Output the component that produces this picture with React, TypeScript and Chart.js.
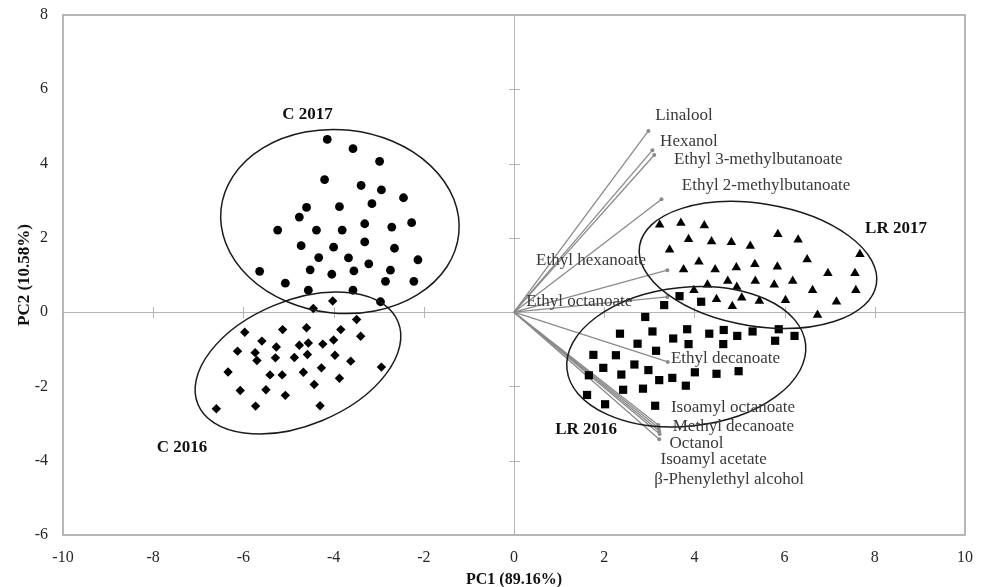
import React, { useEffect, useRef } from "react";
import { Chart, registerables } from "chart.js";

Chart.register(...registerables);

// ---------- data ----------
const xTickValues: number[] = [-10, -8, -6, -4, -2, 0, 2, 4, 6, 8, 10];
const yTickValues: number[] = [-6, -4, -2, 0, 2, 4, 6, 8];

const c2017: [number, number][] = [
  [-4.14, 4.65], [-3.57, 4.4], [-2.98, 4.06], [-4.2, 3.57], [-3.39, 3.41], [-2.94, 3.29],
  [-2.45, 3.08], [-4.6, 2.82], [-3.87, 2.84], [-3.15, 2.92], [-4.76, 2.56], [-5.24, 2.21],
  [-4.38, 2.21], [-3.81, 2.21], [-3.31, 2.38], [-2.71, 2.29], [-2.27, 2.41], [-4.72, 1.79],
  [-4.0, 1.75], [-3.31, 1.89], [-2.65, 1.72], [-4.33, 1.47], [-3.67, 1.46], [-3.22, 1.3],
  [-2.13, 1.41], [-5.64, 1.1], [-4.52, 1.14], [-4.04, 1.02], [-3.55, 1.11], [-2.74, 1.13],
  [-5.07, 0.78], [-4.56, 0.59], [-3.57, 0.59], [-2.85, 0.83], [-2.22, 0.83], [-2.96, 0.28],
];

const c2016: [number, number][] = [
  [-4.45, 0.1], [-4.02, 0.3], [-3.49, -0.2], [-5.97, -0.54], [-5.13, -0.47], [-4.6, -0.42],
  [-3.84, -0.47], [-3.4, -0.65], [-5.59, -0.78], [-5.27, -0.94], [-4.76, -0.89], [-4.56, -0.83],
  [-4.24, -0.86], [-4.0, -0.75], [-6.13, -1.05], [-5.74, -1.09], [-5.7, -1.3], [-5.29, -1.23],
  [-4.87, -1.22], [-4.58, -1.14], [-3.97, -1.16], [-3.62, -1.32], [-6.34, -1.61], [-5.41, -1.69],
  [-5.14, -1.69], [-4.67, -1.62], [-4.27, -1.5], [-2.94, -1.48], [-3.87, -1.78], [-6.07, -2.11],
  [-5.5, -2.09], [-4.43, -1.95], [-5.07, -2.24], [-6.6, -2.6], [-5.73, -2.53], [-4.3, -2.52],
];

const lr2017: [number, number][] = [
  [3.23, 2.35], [3.7, 2.4], [4.22, 2.33], [3.87, 1.96], [4.38, 1.9], [4.82, 1.88],
  [5.24, 1.78], [5.85, 2.1], [6.3, 1.95], [3.45, 1.68], [7.67, 1.56], [6.5, 1.42],
  [4.1, 1.36], [3.76, 1.15], [4.46, 1.15], [4.93, 1.2], [5.34, 1.29], [5.84, 1.22],
  [6.96, 1.05], [7.56, 1.05], [4.29, 0.74], [4.74, 0.84], [4.94, 0.68], [5.35, 0.84],
  [5.77, 0.74], [6.18, 0.84], [6.62, 0.59], [7.58, 0.59], [3.99, 0.59], [4.49, 0.35],
  [5.05, 0.39], [5.44, 0.3], [6.02, 0.32], [7.15, 0.28], [4.84, 0.16], [6.73, -0.08],
];

const lr2016: [number, number][] = [
  [3.67, 0.43], [3.33, 0.19], [4.15, 0.28], [2.91, -0.13], [2.35, -0.58], [3.07, -0.52],
  [3.84, -0.46], [4.33, -0.58], [4.65, -0.48], [4.95, -0.64], [5.29, -0.52], [5.87, -0.46],
  [6.22, -0.64], [5.79, -0.77], [2.74, -0.85], [3.53, -0.71], [3.87, -0.86], [4.64, -0.86],
  [3.15, -1.04], [1.76, -1.15], [2.26, -1.16], [1.98, -1.5], [2.67, -1.41], [2.98, -1.56],
  [1.66, -1.7], [2.38, -1.68], [3.22, -1.83], [3.51, -1.77], [4.01, -1.62], [4.49, -1.66],
  [4.98, -1.59], [3.81, -1.98], [2.42, -2.09], [2.86, -2.06], [1.62, -2.23], [2.02, -2.48],
  [3.13, -2.52],
];

// loading vectors
const vectorNames: string[] = [
  "Linalool", "Hexanol", "Ethyl 3-methylbutanoate", "Ethyl 2-methylbutanoate",
  "Ethyl hexanoate", "Ethyl octanoate", "Ethyl decanoate", "Isoamyl octanoate",
  "Methyl decanoate", "Octanol", "Isoamyl acetate", "β-Phenylethyl alcohol",
];
const vectorEnds: [number, number][] = [
  [2.98, 4.88], [3.07, 4.36], [3.11, 4.23], [3.27, 3.04],
  [3.4, 1.13], [3.4, 0.41], [3.41, -1.34], [3.2, -3.04],
  [3.21, -3.12], [3.22, -3.2], [3.23, -3.28], [3.22, -3.42],
];
// label anchor (left, middle) in data units
const vectorLabelAt: [number, number][] = [
  [3.13, 5.29], [3.24, 4.59], [3.55, 4.1], [3.72, 3.4],
  [0.49, 1.38], [0.27, 0.28], [3.48, -1.24], [3.48, -2.57],
  [3.52, -3.09], [3.45, -3.53], [3.25, -3.98], [3.11, -4.5],
];

// group labels (centre) in data units
const groupNames: string[] = ["C 2017", "C 2016", "LR 2017", "LR 2016"];
const groupLabelAt: [number, number][] = [
  [-4.58, 5.31], [-7.36, -3.66], [8.47, 2.24], [1.6, -3.17],
];
// confidence ellipses: centre x, centre y, semi-axis (x units), semi-axis (y units), rotation deg
const ellipses: [number, number, number, number, number][] = [
  [-3.86, 2.44, 2.65, 2.47, 6],
  [-4.79, -1.37, 2.4, 1.68, -22.4],
  [5.41, 1.27, 2.66, 1.65, 9.2],
  [3.82, -1.2, 2.66, 1.87, -6],
];

const SERIF = "'Liberation Serif', 'Times New Roman', serif";

const toPts = (arr: [number, number][]) => arr.map(([x, y]) => ({ x, y }));

const decorPlugin = {
  id: "decor",
  beforeDatasetsDraw(chart: any) {
    const { ctx, chartArea: a, scales } = chart;
    const xs = scales.x;
    const ys = scales.y;
    const x0 = Math.round(xs.getPixelForValue(0)) + 0.5;
    const y0 = Math.round(ys.getPixelForValue(0)) + 0.5;
    ctx.save();
    ctx.strokeStyle = "#b4b4b4";
    ctx.lineWidth = 1;
    ctx.beginPath();
    ctx.moveTo(a.left, y0);
    ctx.lineTo(a.right, y0);
    ctx.moveTo(x0, a.top);
    ctx.lineTo(x0, a.bottom);
    for (const v of xTickValues) {
      if (v === 0 || v === xTickValues[0] || v === xTickValues[xTickValues.length - 1]) continue;
      const px = Math.round(xs.getPixelForValue(v)) + 0.5;
      ctx.moveTo(px, y0 - 5.5);
      ctx.lineTo(px, y0 + 5.5);
    }
    for (const v of yTickValues) {
      if (v === 0 || v === yTickValues[0] || v === yTickValues[yTickValues.length - 1]) continue;
      const py = Math.round(ys.getPixelForValue(v)) + 0.5;
      ctx.moveTo(x0 - 5.5, py);
      ctx.lineTo(x0 + 5.5, py);
    }
    ctx.stroke();
    ctx.strokeStyle = "#a6a6a6";
    ctx.lineWidth = 1.6;
    ctx.strokeRect(a.left, a.top, a.right - a.left, a.bottom - a.top);
    ctx.restore();
  },
  afterDatasetsDraw(chart: any) {
    const { ctx, scales } = chart;
    const xs = scales.x;
    const ys = scales.y;
    const pxPerX = Math.abs(xs.getPixelForValue(1) - xs.getPixelForValue(0));
    const pxPerY = Math.abs(ys.getPixelForValue(1) - ys.getPixelForValue(0));
    ctx.save();
    ctx.strokeStyle = "#1a1a1a";
    ctx.lineWidth = 1.5;
    for (const [cx, cy, ax, ay, rot] of ellipses) {
      ctx.beginPath();
      ctx.ellipse(
        xs.getPixelForValue(cx),
        ys.getPixelForValue(cy),
        ax * pxPerX,
        ay * pxPerY,
        (rot * Math.PI) / 180,
        0,
        Math.PI * 2
      );
      ctx.stroke();
    }
    ctx.font = `17px ${SERIF}`;
    ctx.fillStyle = "#3a3a3a";
    ctx.textAlign = "left";
    ctx.textBaseline = "middle";
    vectorNames.forEach((name, i) => {
      const [lx, ly] = vectorLabelAt[i];
      ctx.fillText(name, xs.getPixelForValue(lx), ys.getPixelForValue(ly));
    });
    ctx.font = `bold 17px ${SERIF}`;
    ctx.fillStyle = "#111111";
    ctx.textAlign = "center";
    groupNames.forEach((name, i) => {
      const [gx, gy] = groupLabelAt[i];
      ctx.fillText(name, xs.getPixelForValue(gx), ys.getPixelForValue(gy));
    });
    ctx.restore();
  },
};

export default function App() {
  const canvasRef = useRef<HTMLCanvasElement | null>(null);

  useEffect(() => {
    document.body.style.margin = "0";
    const canvas = canvasRef.current;
    if (!canvas) return;

    const markerSets = [
      { data: toPts(c2017), pointStyle: "circle", pointRadius: 4.4 },
      { data: toPts(c2016), pointStyle: "rectRot", pointRadius: 4.7 },
      { data: toPts(lr2017), pointStyle: "triangle", pointRadius: 5.5 },
      { data: toPts(lr2016), pointStyle: "rect", pointRadius: 5.8 },
    ].map((d) => ({
      ...d,
      showLine: false,
      backgroundColor: "#000000",
      borderColor: "#000000",
      borderWidth: 0,
    }));

    const vectorSets = vectorEnds.map(([vx, vy]) => ({
      data: [
        { x: 0, y: 0 },
        { x: vx, y: vy },
      ],
      showLine: true,
      borderColor: "#8a8a8a",
      borderWidth: 1.3,
      pointRadius: [0, 2],
      pointBackgroundColor: "#8a8a8a",
      pointBorderWidth: 0,
      backgroundColor: "#8a8a8a",
    }));

    const chart = new Chart(canvas, {
      type: "scatter",
      data: { datasets: [...markerSets, ...vectorSets] as any },
      options: {
        animation: false,
        responsive: false,
        devicePixelRatio: 1,
        layout: { padding: { top: 15, right: 22, left: 0, bottom: 0 } },
        plugins: { legend: { display: false }, tooltip: { enabled: false } },
        events: [],
        scales: {
          x: {
            type: "linear",
            min: -10,
            max: 10,
            grid: { display: false, drawTicks: false },
            border: { display: false },
            ticks: {
              stepSize: 2,
              autoSkip: false,
              maxRotation: 0,
              padding: 13.5,
              color: "#262626",
              font: { family: SERIF, size: 16 },
            },
            title: {
              display: true,
              text: "PC1 (89.16%)",
              color: "#111111",
              font: { family: SERIF, size: 16, weight: "bold", lineHeight: 0.875 },
              padding: { top: 0, bottom: 0 },
            },
            afterFit: (s: any) => {
              s.height = 52;
              s.paddingLeft = 0;
              s.paddingRight = 0;
            },
          },
          y: {
            type: "linear",
            min: -6,
            max: 8,
            grid: { display: false, drawTicks: false },
            border: { display: false },
            ticks: {
              stepSize: 2,
              autoSkip: false,
              padding: 15,
              color: "#262626",
              font: { family: SERIF, size: 16 },
            },
            title: {
              display: true,
              text: "PC2 (10.58%)",
              color: "#111111",
              font: { family: SERIF, size: 17, weight: "bold" },
              padding: { top: 14, bottom: 0 },
            },
            afterFit: (s: any) => {
              s.width = 63;
              s.paddingTop = 0;
              s.paddingBottom = 0;
            },
          },
        },
      } as any,
      plugins: [decorPlugin],
    });

    return () => chart.destroy();
  }, []);

  return (
    <div style={{ position: "absolute", left: 0, top: 0, width: 987, height: 587 }}>
      <canvas ref={canvasRef} width={987} height={587} style={{ display: "block" }} />
    </div>
  );
}
